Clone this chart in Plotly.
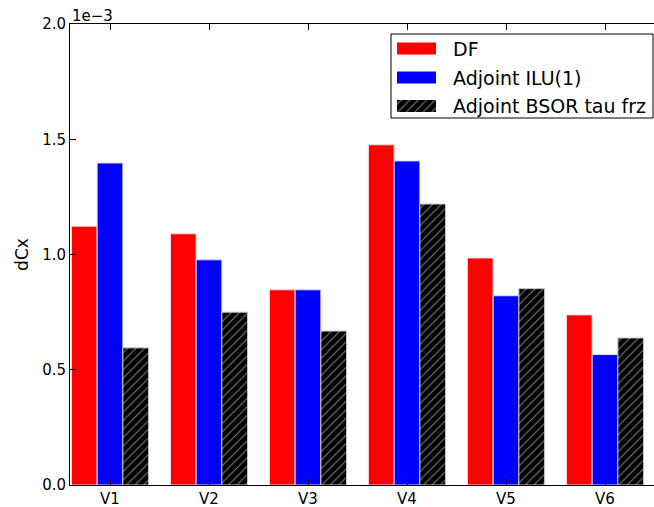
import plotly.graph_objects as go

categories = ["V1", "V2", "V3", "V4", "V5", "V6"]
df_vals = [1.123e-3, 1.090e-3, 0.847e-3, 1.476e-3, 0.985e-3, 0.738e-3]
ilu_vals = [1.397e-3, 0.977e-3, 0.847e-3, 1.406e-3, 0.821e-3, 0.566e-3]
bsor_vals = [0.595e-3, 0.750e-3, 0.668e-3, 1.219e-3, 0.852e-3, 0.638e-3]
series_names = ["DF", "Adjoint ILU(1)", "Adjoint BSOR tau frz"]
ytick_vals = [0.0, 0.5e-3, 1.0e-3, 1.5e-3, 2.0e-3]
ytick_text = ["0.0", "0.5", "1.0", "1.5", "2.0"]

xs = list(range(len(categories)))
font = "DejaVu Sans, sans-serif"
RED, BLUE, BLACK = "#ff0000", "#0000ff", "#000000"
hatch = dict(shape="/", fgcolor="#ffffff", bgcolor=BLACK, size=6, solidity=0.18)

fig = go.Figure()
fig.add_trace(go.Bar(x=xs, y=df_vals, name=series_names[0], showlegend=False,
                     marker=dict(color=RED, line=dict(color="#ffdddd", width=1))))
fig.add_trace(go.Bar(x=xs, y=ilu_vals, name=series_names[1], showlegend=False,
                     marker=dict(color=BLUE, line=dict(color="#ddddff", width=1))))
fig.add_trace(go.Bar(x=xs, y=bsor_vals, name=series_names[2], showlegend=False,
                     marker=dict(color=BLACK, line=dict(color="#cccccc", width=1),
                                 pattern=hatch)))

# custom legend drawn on an overlay axis measured in page pixels
row_y = [48.5, 77.5, 106]
sw_colors = [RED, BLUE, BLACK]
for i, name in enumerate(series_names):
    mk = dict(color=sw_colors[i], line=dict(width=0))
    if i == 2:
        mk["pattern"] = hatch
    fig.add_trace(go.Bar(x=[39], y=[row_y[i]], base=[397], orientation="h", width=12,
                         xaxis="x2", yaxis="y2", marker=mk, showlegend=False,
                         hoverinfo="skip"))
    fig.add_annotation(xref="x2", yref="y2", x=451, y=row_y[i], xanchor="left",
                       yanchor="middle", text=name, showarrow=False,
                       font=dict(size=19, family=font, color="black"))
fig.add_shape(type="rect", xref="x2", yref="y2", x0=391, x1=653, y0=34, y1=118,
              line=dict(color="black", width=1), fillcolor="rgba(0,0,0,0)", layer="below")

fig.update_layout(
    width=654, height=507,
    margin=dict(l=70, r=0, t=24, b=22),
    paper_bgcolor="white", plot_bgcolor="white",
    barmode="group", bargap=0.22, bargroupgap=0.0,
    font=dict(family=font, size=15, color="black"),
    showlegend=False,
    xaxis2=dict(overlaying="x", range=[70, 654], visible=False, fixedrange=True),
    yaxis2=dict(overlaying="y", range=[485, 24], visible=False, fixedrange=True),
)
fig.layout.xaxis.update(range=[-0.404, 5.495], tickmode="array", tickvals=xs, ticktext=categories,
                        showline=True, linecolor="black", linewidth=1, mirror="ticks",
                        ticks="inside", ticklen=6, tickcolor="black",
                        showgrid=False, zeroline=False, tickfont=dict(size=15))
fig.layout.yaxis.update(range=[0, 2.0e-3], tickmode="array", tickvals=ytick_vals, ticktext=ytick_text,
                        showline=True, linecolor="black", linewidth=1,
                        ticks="inside", ticklen=6, tickcolor="black",
                        showgrid=False, zeroline=False, tickfont=dict(size=15),
                        title=dict(text="dCx", font=dict(size=17), standoff=9))
fig.add_annotation(xref="paper", yref="paper", x=0, y=1, xanchor="left", yanchor="bottom",
                   text="1e\u22123", showarrow=False, font=dict(size=15, family=font),
                   yshift=-3)

fig.write_html("out.html", config={"displayModeBar": False},
               post_script="document.body.style.margin='0px';document.body.style.overflow='hidden';")
